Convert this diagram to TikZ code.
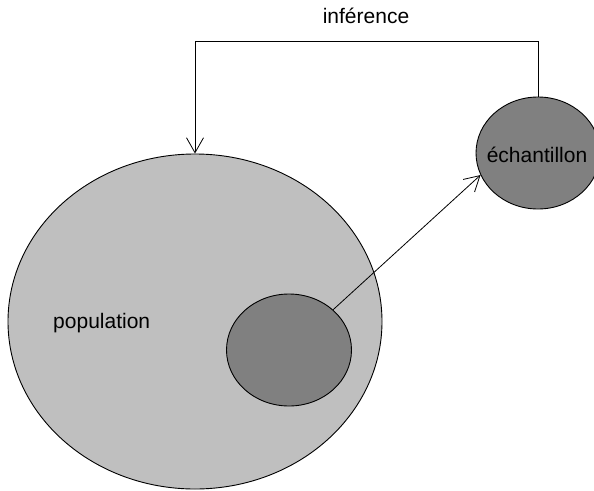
\documentclass[tikz,border=0pt]{standalone}
\usepackage{fontspec}
\setmainfont{Liberation Sans}
\usetikzlibrary{shapes.geometric,arrows.meta}
\definecolor{light}{gray}{0.75}
\definecolor{dark}{gray}{0.5}
\begin{document}
\begin{tikzpicture}[x=1pt,y=-1pt,
  blob/.style={ellipse,draw=black,line width=0.9pt,inner sep=0pt},
  lbl/.style={font=\fontsize{21}{25}\selectfont,inner sep=0pt},
  conn/.style={line width=0.8pt,-{Straight Barb[length=15pt,width=17pt,line width=0.8pt]}}]
\useasboundingbox (0,0) rectangle (594,490);
\node[blob,fill=light,minimum width=374pt,minimum height=335pt] (pop) at (195,321.5) {};
\node[blob,fill=dark,minimum width=125pt,minimum height=112pt] (sub) at (289,350) {};
\node[blob,fill=dark,minimum width=124pt,minimum height=112pt] (ech) at (538,153) {};
\node[lbl] (echlbl) at (537,155) {échantillon};
\node[lbl] (poplbl) at (101.7,323) {population};
\node[lbl] (inf) at (366,16) {inférence};
\coordinate (corner) at (195,41);
\draw[conn] (sub) -- (ech.201);
\draw[conn] (ech.north) |- (corner) -- (pop.north);
\end{tikzpicture}
\end{document}
